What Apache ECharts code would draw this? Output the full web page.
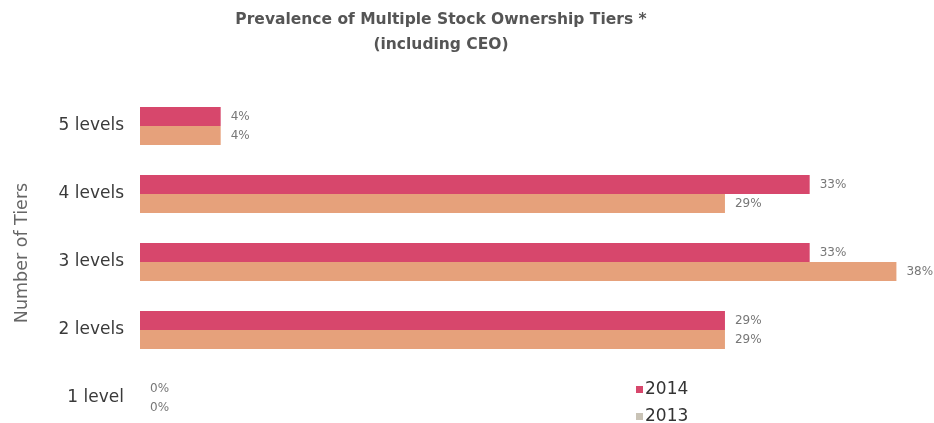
<!DOCTYPE html>
<html><head><meta charset="utf-8">
<script src="https://cdn.jsdelivr.net/npm/echarts@6/dist/echarts.min.js"></script>
<style>html,body{margin:0;padding:0;background:#fff}#c{width:934px;height:423px}</style>
</head><body><div id="c"></div>
<script>
const categories = ['1 level', '2 levels', '3 levels', '4 levels', '5 levels'];
const values2014 = [0, 29, 33.2, 33.2, 4];
const values2013 = [0, 29, 37.5, 29, 4];
const seriesNames = ['2014', '2013'];

const FONT = 'DejaVu Sans';
const chart = echarts.init(document.getElementById('c'));
const lbl = {
  show: true, position: 'right', distance: 10,
  formatter: p => Math.round(p.value) + '%',
  fontFamily: FONT, fontSize: 12, color: '#777'
};
chart.setOption({
  animation: false,
  textStyle: { fontFamily: FONT },
  title: {
    text: 'Prevalence of Multiple Stock Ownership Tiers *\n(including CEO)',
    left: 436, textAlign: 'center', top: 2,
    textStyle: { fontSize: 15.5, fontWeight: 'bold', color: '#555', lineHeight: 25, fontFamily: FONT }
  },
  legend: {
    orient: 'vertical', left: 631, top: 376, height: 80, itemWidth: 7, itemHeight: 7, itemGap: 10,
    icon: 'rect',
    textStyle: { fontSize: 17, color: '#333', padding: [0, 0, 0, -3], fontFamily: FONT },
    data: [{ name: '2014' }, { name: '2013', itemStyle: { color: '#c9c3b6' } }]
  },
  grid: { left: 140, top: 126, height: 272, width: 766.5 },
  xAxis: { type: 'value', min: 0, max: 38, show: false },
  yAxis: {
    type: 'category', data: categories, boundaryGap: false,
    axisLine: { show: false }, axisTick: { show: false }, splitLine: { show: false },
    axisLabel: { fontSize: 17, color: '#3a3a3a', margin: 16, fontFamily: FONT },
    name: 'Number of Tiers', nameLocation: 'middle', nameGap: 109, nameRotate: 90,
    nameTextStyle: { fontSize: 17.5, color: '#666', fontFamily: FONT, padding: [0, 0, 0, 18] }
  },
  series: [
    { name: seriesNames[0], type: 'bar', data: values2014, barWidth: 19, barGap: '0%',
      itemStyle: { color: '#d7476c' }, label: lbl },
    { name: seriesNames[1], type: 'bar', data: values2013, barWidth: 19, barGap: '0%',
      itemStyle: { color: '#e6a17b' }, label: lbl }
  ]
});
</script></body></html>
